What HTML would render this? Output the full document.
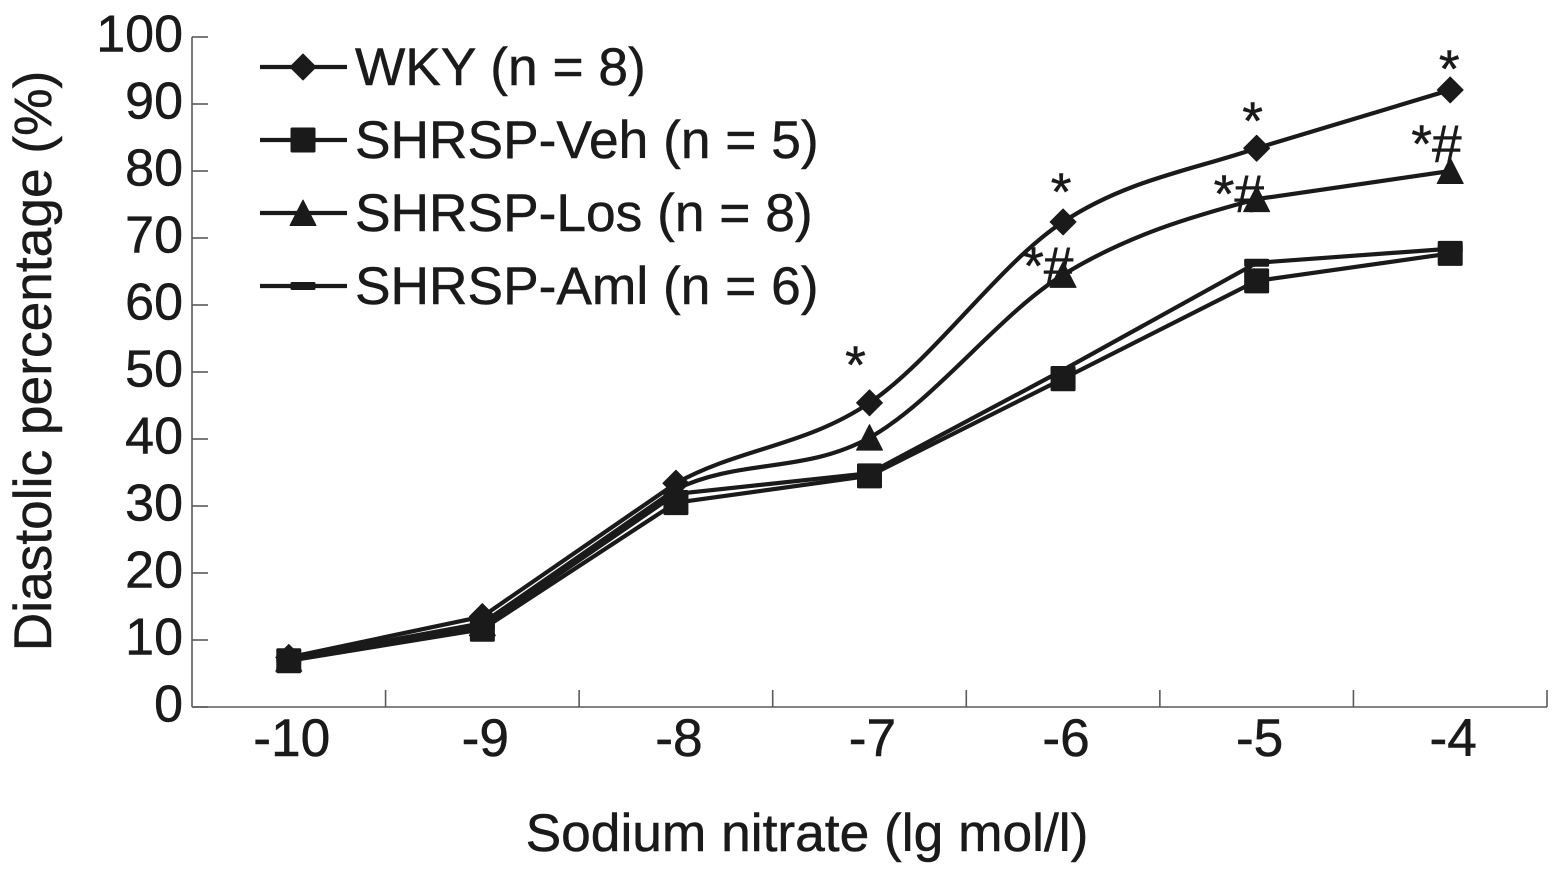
<!DOCTYPE html>
<html lang="en">
<head>
<meta charset="utf-8">
<title>Diastolic percentage chart</title>
<style>
html,body{margin:0;padding:0;background:#fff;width:1559px;height:875px;overflow:hidden}
svg{display:block}
text{font-family:"Liberation Sans",Arial,sans-serif;font-size:53.3px;fill:#1a1a1a;stroke:#1a1a1a;stroke-width:.5px}
</style>
</head>
<body>
<svg id="chart" xmlns="http://www.w3.org/2000/svg" width="1559" height="875" viewBox="0 0 1559 875">
<rect width="1559" height="875" fill="#fff"/>
<g id="axes-layer"></g>
<g id="series-layer"></g>
<g id="notes-layer"></g>
<g id="legend-layer"></g>
<text x="807" y="851" text-anchor="middle">Sodium nitrate (lg mol/l)</text>
<text transform="translate(51 361) rotate(-90)" text-anchor="middle">Diastolic percentage (%)</text>
</svg>
<script>
const categories = ['-10', '-9', '-8', '-7', '-6', '-5', '-4'];
const yTicks = [0, 10, 20, 30, 40, 50, 60, 70, 80, 90, 100];
const wkyValues = [7.4, 13.5, 33.4, 45.4, 72.4, 83.4, 92.1];
const vehValues = [6.9, 11.6, 30.5, 34.5, 49, 63.6, 67.7];
const losValues = [7.2, 12.5, 32.5, 40.2, 64.5, 75.8, 80];
const amlValues = [7.2, 12, 31.8, 34.9, 50.3, 66.3, 68.4];
const legendLabels = ['WKY (n = 8)', 'SHRSP-Veh (n = 5)', 'SHRSP-Los (n = 8)', 'SHRSP-Aml (n = 6)'];
const noteLabels = ['*', '*', '*', '*', '*#', '*#', '*#'];

const NS = 'http://www.w3.org/2000/svg';
const INK = '#1a1a1a';
const AXIS_INK = '#5a5a5a';
const LINE_W = 4.2;
const plotLeft = 192, plotRight = 1547, plotBottom = 707, plotTop = 37;
const step = (plotRight - plotLeft) / categories.length;
const xScale = i => plotLeft + step * (i + 0.5);
const yScale = v => plotBottom - (plotBottom - plotTop) * v / 100;

function make(parent, tag, attrs, name) {
  const el = document.createElementNS(NS, tag);
  for (const k in attrs) el.setAttribute(k, attrs[k]);
  
  
  parent.appendChild(el);
  return el;
}

function marker(parent, kind, cx, cy, name) {
  if (kind === 'diamond') {
    return make(parent, 'polygon', {points: `${cx},${cy-13} ${cx+13},${cy} ${cx},${cy+13} ${cx-13},${cy}`, fill: INK, stroke: INK, 'stroke-width': 1, 'stroke-linejoin': 'round'}, name);
  }
  if (kind === 'square') {
    return make(parent, 'rect', {x: cx-12.5, y: cy-12.5, width: 25, height: 25, rx: 1.5, fill: INK}, name);
  }
  if (kind === 'triangle') {
    return make(parent, 'polygon', {points: `${cx},${cy-13} ${cx+13},${cy+12.5} ${cx-13},${cy+12.5}`, fill: INK, stroke: INK, 'stroke-width': 1, 'stroke-linejoin': 'round'}, name);
  }
  return make(parent, 'rect', {x: cx-12.5, y: cy-4, width: 25, height: 8, rx: 1.5, fill: INK}, name);
}

/* curved=true bends only the middle-dose segments; the rest are straight */
function seriesPath(values, curved) {
  const p = values.map((v, i) => [xScale(i), yScale(v)]);
  let d = `M${p[0][0]} ${p[0][1]}`;
  for (let i = 0; i < p.length - 1; i++) {
    const a = p[Math.max(i - 1, 0)], b = p[i], c = p[i + 1], e = p[Math.min(i + 2, p.length - 1)];
    if (curved && i >= 2 && i <= 4) {
      d += ` C${b[0] + (c[0] - a[0]) / 6} ${b[1] + (c[1] - a[1]) / 6} ${c[0] - (e[0] - b[0]) / 6} ${c[1] - (e[1] - b[1]) / 6} ${c[0]} ${c[1]}`;
    } else {
      d += ` L${c[0]} ${c[1]}`;
    }
  }
  return d;
}

/* axes */
const axesLayer = document.getElementById('axes-layer');
make(axesLayer, 'line', {x1: plotLeft, y1: plotTop, x2: plotLeft, y2: plotBottom, stroke: AXIS_INK, 'stroke-width': 1.6}, 'y-axis-line');
make(axesLayer, 'line', {x1: plotLeft, y1: plotBottom, x2: plotRight, y2: plotBottom, stroke: AXIS_INK, 'stroke-width': 1.6}, 'x-axis-line');
yTicks.forEach(t => {
  make(axesLayer, 'line', {x1: plotLeft, y1: yScale(t), x2: plotLeft + 16, y2: yScale(t), stroke: AXIS_INK, 'stroke-width': 1.6}, 'y-tick-' + t);
  const label = make(axesLayer, 'text', {x: 183, y: yScale(t) + 14.5, 'text-anchor': 'end', style: 'font-size:52px'}, 'y-tick-label-' + t);
  label.textContent = t;
});
for (let i = 1; i <= categories.length; i++) {
  make(axesLayer, 'line', {x1: plotLeft + step * i, y1: plotBottom, x2: plotLeft + step * i, y2: plotBottom - 17, stroke: AXIS_INK, 'stroke-width': 1.6}, 'x-tick-' + i);
}
categories.forEach((c, i) => {
  const label = make(axesLayer, 'text', {x: xScale(i) + 3, y: 756, 'text-anchor': 'middle'}, 'x-tick-label-' + c);
  label.textContent = c;
});

/* series */
const seriesList = [
  {id: 'wky', values: wkyValues, kind: 'diamond', curved: true},
  {id: 'shrsp-veh', values: vehValues, kind: 'square', curved: false},
  {id: 'shrsp-los', values: losValues, kind: 'triangle', curved: true},
  {id: 'shrsp-aml', values: amlValues, kind: 'dash', curved: false}
];
const seriesLayer = document.getElementById('series-layer');
seriesList.forEach(s => {
  const g = make(seriesLayer, 'g', {}, 'series-' + s.id);
  make(g, 'path', {d: seriesPath(s.values, s.curved), fill: 'none', stroke: INK, 'stroke-width': LINE_W, 'stroke-linejoin': 'round'}, 'line-' + s.id);
  s.values.forEach((v, i) => marker(g, s.kind, xScale(i), yScale(v), 'point-' + s.id + '-' + categories[i]));
});

/* annotations, anchored to the series they mark */
const notesLayer = document.getElementById('notes-layer');
function note(label, i, value, dx, dy, anchor, name) {
  const t = make(notesLayer, 'text', {x: xScale(i) + dx, y: yScale(value) + dy, 'text-anchor': anchor}, name);
  t.textContent = label;
}
note(noteLabels[0], 3, wkyValues[3], -14, -20, 'middle', 'significance-wky-minus7');
note(noteLabels[1], 4, wkyValues[4], -2, -12, 'middle', 'significance-wky-minus6');
note(noteLabels[2], 5, wkyValues[5], -4, -9, 'middle', 'significance-wky-minus5');
note(noteLabels[3], 6, wkyValues[6], -1, -3, 'middle', 'significance-wky-minus4');
note(noteLabels[4], 4, losValues[4], -40, 9, 'start', 'significance-los-minus6');
note(noteLabels[5], 5, losValues[5], -43, 13, 'start', 'significance-los-minus5');
note(noteLabels[6], 6, losValues[6], -39, -9, 'start', 'significance-los-minus4');

/* legend */
const legendLayer = document.getElementById('legend-layer');
seriesList.forEach((s, i) => {
  const cy = 67 + i * 73;
  const g = make(legendLayer, 'g', {}, 'legend-entry-' + s.id);
  make(g, 'line', {x1: 260, y1: cy, x2: 347, y2: cy, stroke: INK, 'stroke-width': LINE_W}, 'legend-line-' + s.id);
  marker(g, s.kind, 303, cy, 'legend-marker-' + s.id);
  const t = make(g, 'text', {x: 355, y: cy + 18}, 'legend-label-' + s.id);
  t.textContent = legendLabels[i];
});
</script>
</body>
</html>
